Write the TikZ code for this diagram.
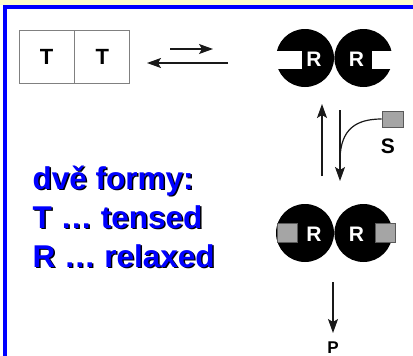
\documentclass[tikz,border=0pt]{standalone}
\usepackage{fontspec}
\setmainfont{Liberation Sans}
\usetikzlibrary{arrows.meta,positioning}
\definecolor{paleyellow}{RGB}{255,255,204}
\definecolor{subgray}{RGB}{165,165,165}
\tikzset{%
	tbox/.style      = {draw=gray, line width=0.8pt, minimum width=55pt, minimum height=53pt, font=\fontsize{22}{22}\selectfont\bfseries},
	subunit/.style   = {circle, fill=black, minimum size=58pt, inner sep=0pt}, % R subunit
	rlabel/.style    = {text=white, inner sep=0pt, font=\fontsize{21}{21}\selectfont\bfseries},
	notch/.style     = {fill=white},
	substrate/.style = {draw=gray!70!black, fill=subgray, line width=0.6pt, inner sep=0pt},
	letter/.style    = {inner sep=0pt, anchor=base, font=\fontsize{21}{21}\selectfont\bfseries},
	legend/.style    = {inner sep=0pt, anchor=base west, font=\fontsize{31.5}{31.5}\selectfont\bfseries},
	flow/.style      = {-{Stealth[length=14pt,width=10pt,inset=3pt]}, line width=1.2pt, draw=black!90},
}
\begin{document}
\begin{tikzpicture}[x=1pt,y=-1pt]
		% frame
		\fill[white] (0,0) rectangle (413,356);
		\fill[paleyellow] (0,0) rectangle (413,5);
		\fill[blue] (3,5) rectangle (413,9);
		\fill[blue] (3,5) rectangle (7,356);
		\useasboundingbox (0,0) rectangle (413,356);
		% T form
		\node[tbox] (t1) at (46.5,56.5) {T};
		\node[tbox, right=0pt of t1] (t2) {T};
		\coordinate (fwdA) at (170,49);
		\coordinate (fwdB) at (213,49);
		\coordinate (revA) at (228,63);
		\coordinate (revB) at (147,63);
		\draw[flow] (fwdA) -- (fwdB);
		\draw[flow] (revA) -- (revB);
		% R form
		\node[subunit] (rtl) at (305,58) {};
		\node[subunit, right=0pt of rtl] (rtr) {};
		\fill[notch] ([shift={(-2,-7)}]rtl.west) rectangle ([shift={(26,11)}]rtl.west);
		\fill[notch] ([shift={(-21,-7)}]rtr.east) rectangle ([shift={(2,11)}]rtr.east);
		\node[rlabel] (rtlR) at ([shift={(9,1.5)}]rtl.center) {R};
		\node[rlabel] (rtrR) at ([shift={(-7,1.5)}]rtr.center) {R};
		% substrate binding
		\node[substrate, minimum width=21pt, minimum height=16pt] (sub) at (392.5,119) {};
		\node[letter] (subS) at (388,153) {S};
		\coordinate (upA) at (322,176);
		\coordinate (upB) at (322,104);
		\coordinate (downA) at (340,110);
		\coordinate (downB) at (340,181);
		\draw[flow] (upA) -- (upB);
		\draw[flow] (downA) -- (downB);
		\draw[line width=1.2pt, draw=black!90] (sub.west) .. controls (355,119) and (341,130) .. (340,158);
		% R form with bound substrate
		\node[subunit] (rbl) at (305,233) {};
		\node[subunit, right=0pt of rbl] (rbr) {};
		\node[substrate, minimum width=20pt, minimum height=19pt] (subL) at (287,232.5) {};
		\node[substrate, minimum width=20pt, minimum height=19pt] (subR) at (385,232.5) {};
		\node[rlabel] (rblR) at ([shift={(9,1)}]rbl.center) {R};
		\node[rlabel] (rbrR) at ([shift={(-7,1)}]rbr.center) {R};
		% product
		\coordinate (prodA) at (333,282);
		\coordinate (prodB) at (333,333);
		\node[letter, font=\fontsize{17}{17}\selectfont\bfseries] (prod) at (333,353) {P};
		\draw[flow] (prodA) -- (prodB);
		% legend, blue with a dark shadow
		\foreach \txt/\yy [count=\i] in {dvě formy:/189, T … tensed/228, R … relaxed/267} {
			\node[legend, text=black] (shadow\i) at (34,\yy+1.5) {\txt};
			\node[legend, text=blue] (line\i) at (32.5,\yy) {\txt};
		}
\end{tikzpicture}
\end{document}
